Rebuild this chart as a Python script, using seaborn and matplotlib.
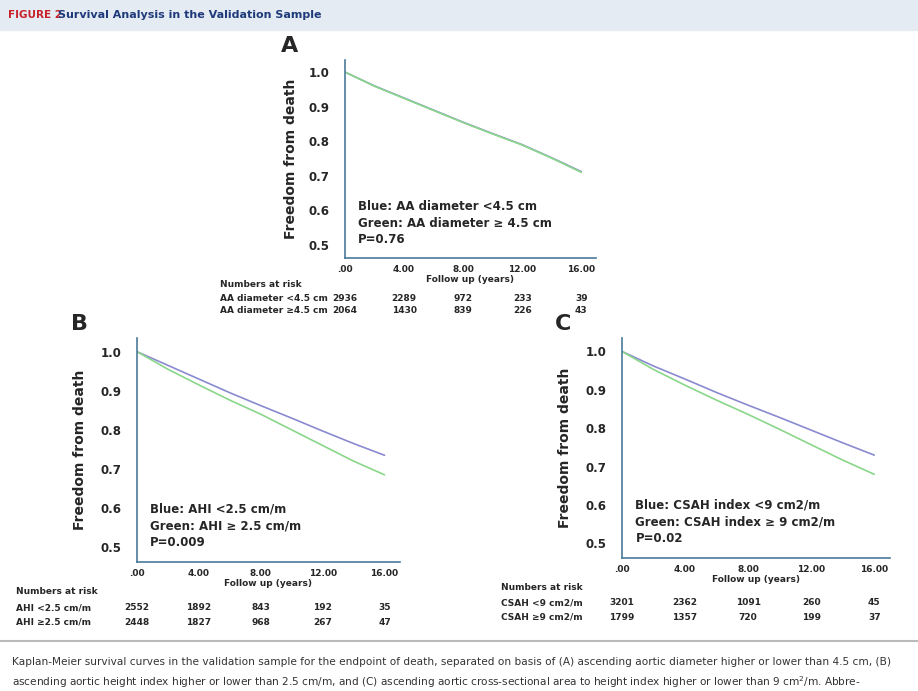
import numpy as np
import pandas as pd
import matplotlib
matplotlib.use("Agg")
import matplotlib.pyplot as plt
import matplotlib.transforms as mtrans
import seaborn as sns

# --- data ---
years = [0, 2, 4, 6, 8, 10, 12, 14, 16]
a_blue = [1.0, 0.960, 0.925, 0.890, 0.855, 0.822, 0.790, 0.752, 0.712]
a_green = [1.0, 0.959, 0.924, 0.889, 0.854, 0.821, 0.789, 0.751, 0.710]
b_blue = [1.0, 0.965, 0.930, 0.895, 0.862, 0.830, 0.797, 0.765, 0.735]
b_green = [1.0, 0.955, 0.915, 0.876, 0.840, 0.800, 0.760, 0.720, 0.685]
c_blue = [1.0, 0.962, 0.928, 0.893, 0.860, 0.828, 0.795, 0.762, 0.730]
c_green = [1.0, 0.953, 0.912, 0.873, 0.836, 0.797, 0.757, 0.717, 0.680]

risk_times = [0, 4, 8, 12, 16]
a_risk_labels = ["AA diameter <4.5 cm", "AA diameter \u22654.5 cm"]
a_risk = [[2936, 2289, 972, 233, 39], [2064, 1430, 839, 226, 43]]
b_risk_labels = ["AHI <2.5 cm/m", "AHI \u22652.5 cm/m"]
b_risk = [[2552, 1892, 843, 192, 35], [2448, 1827, 968, 267, 47]]
c_risk_labels = ["CSAH <9 cm2/m", "CSAH \u22659 cm2/m"]
c_risk = [[3201, 2362, 1091, 260, 45], [1799, 1357, 720, 199, 37]]

BLUE = "#8a8ad0"
GREEN = "#8ad68a"
AXC = "#4a7a9a"

sns.set_style("white")
plt.rcParams["font.family"] = ["DejaVu Sans"]

W, H = 918, 691
fig = plt.figure(figsize=(W / 100, H / 100), dpi=100)


def px_axes(x0, y_top, x1, y_bot):
    return fig.add_axes([x0 / W, 1 - y_bot / H, (x1 - x0) / W, (y_bot - y_top) / H])


def panel(ax, letter, blue, green, legend, pval, labels, risk, label_x, ylabel_pad):
    df = pd.DataFrame({"t": years * 2, "s": blue + green,
                       "g": ["blue"] * len(years) + ["green"] * len(years)})
    sns.lineplot(data=df, x="t", y="s", hue="g", palette=[BLUE, GREEN],
                 ax=ax, legend=False, linewidth=1.2)
    ax.set_xlim(0, 17)
    ax.set_ylim(0.462, 1.035)
    ax.set_xticks([0, 4, 8, 12, 16])
    ax.set_xticklabels([".00", "4.00", "8.00", "12.00", "16.00"], fontsize=6.5, fontweight="bold")
    ax.set_yticks([0.5, 0.6, 0.7, 0.8, 0.9, 1.0])
    ax.set_yticklabels(["0.5", "0.6", "0.7", "0.8", "0.9", "1.0"], fontsize=8.5, fontweight="bold")
    for s in ["top", "right"]:
        ax.spines[s].set_visible(False)
    for s in ["left", "bottom"]:
        ax.spines[s].set_color(AXC)
        ax.spines[s].set_linewidth(1.2)
    ax.tick_params(axis="y", length=8, width=1, color=AXC, pad=3, direction="out")
    ax.tick_params(axis="x", length=4, width=1, color=AXC, pad=1)
    ax.set_xlabel("Follow up (years)", fontsize=6.5, fontweight="bold", labelpad=1)
    ax.set_ylabel("Freedom from death", fontsize=10, fontweight="bold", labelpad=ylabel_pad)
    ax.text(-0.22, 1.02, letter, transform=ax.transAxes, fontsize=16, fontweight="bold",
            ha="center", va="bottom")
    ax.text(0.05, 0.06, legend + "\n" + pval, transform=ax.transAxes, fontsize=8.5,
            fontweight="bold", va="bottom", linespacing=1.35)
    tr = mtrans.blended_transform_factory(ax.transData, ax.transAxes)
    trl = mtrans.blended_transform_factory(ax.transAxes, ax.transAxes)
    ax.text(label_x, -0.145, "Numbers at risk", transform=trl, fontsize=6.5, fontweight="bold")
    for i, (lab, row) in enumerate(zip(labels, risk)):
        yy = -0.215 - i * 0.065
        ax.text(label_x, yy, lab, transform=trl, fontsize=6.5, fontweight="bold")
        for t, n in zip(risk_times, row):
            ax.text(t, yy, str(n), transform=tr, fontsize=6.5, fontweight="bold", ha="center")
    ax.patch.set_alpha(0)


# header band
fig.patches.append(plt.Rectangle((0, 1 - 30 / H), 1, 30 / H, transform=fig.transFigure,
                                 color="#e4ebf2", zorder=0))
fig.text(8 / W, 1 - 15 / H, "FIGURE 2", color="#c8202a", fontsize=7.5, fontweight="bold", va="center")
fig.text(58 / W, 1 - 15 / H, "Survival Analysis in the Validation Sample", color="#1f3a7a",
         fontsize=8, fontweight="bold", va="center")

axA = px_axes(345, 60, 596, 258)
panel(axA, "A", a_blue, a_green, "Blue: AA diameter <4.5 cm\nGreen: AA diameter \u2265 4.5 cm",
      "P=0.76", a_risk_labels, a_risk, -0.5, 8)
axB = px_axes(137, 338, 400, 562)
panel(axB, "B", b_blue, b_green, "Blue: AHI <2.5 cm/m\nGreen: AHI \u2265 2.5 cm/m",
      "P=0.009", b_risk_labels, b_risk, -0.46, 10)
axC = px_axes(622, 338, 890, 558)
panel(axC, "C", c_blue, c_green, "Blue: CSAH index <9 cm2/m\nGreen: CSAH index \u2265 9 cm2/m",
      "P=0.02", c_risk_labels, c_risk, -0.45, 10)

# separator and caption
fig.add_artist(plt.Line2D([0, 1], [1 - 641 / H] * 2, color="#bbbbbb", linewidth=1.5))
fig.text(12 / W, 1 - 662 / H,
         "Kaplan-Meier survival curves in the validation sample for the endpoint of death, separated on basis of (A) "
         "ascending aortic diameter higher or lower than 4.5 cm, (B)",
         fontsize=7.6, va="center", color="#333333")
fig.text(12 / W, 1 - 682 / H,
         "ascending aortic height index higher or lower than 2.5 cm/m, and (C) ascending aortic cross-sectional area "
         "to height index higher or lower than 9 cm$^2$/m. Abbre-",
         fontsize=7.6, va="center", color="#333333")

fig.savefig("out.png", dpi=100)
